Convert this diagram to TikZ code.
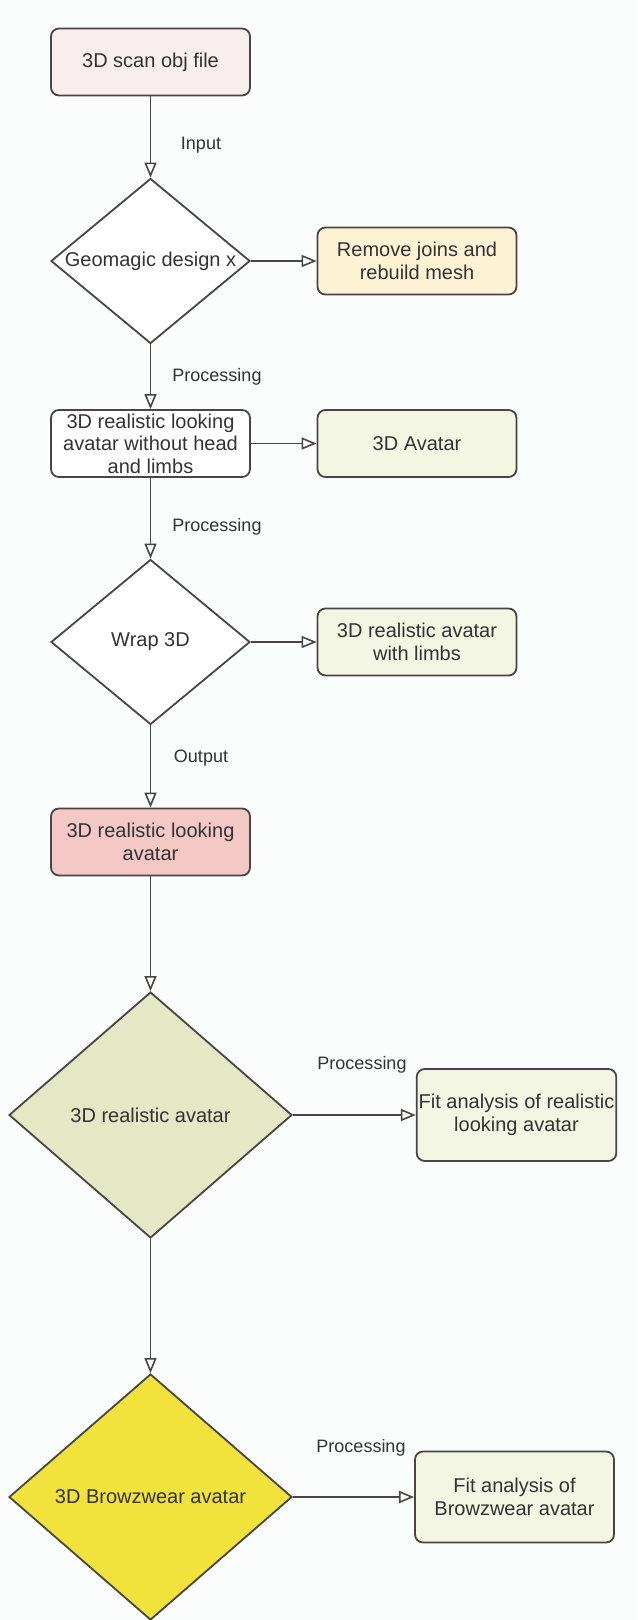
\documentclass[tikz,border=0pt]{standalone}
\usepackage{fontspec}
\setmainfont{Liberation Sans}
\usetikzlibrary{shapes.geometric,arrows.meta}
\definecolor{scanpink}{HTML}{F8EEEE}
\definecolor{meshcream}{HTML}{FDF2D4}
\definecolor{palegreen}{HTML}{F4F6E4}
\definecolor{realred}{HTML}{F4C8C4}
\definecolor{olivegreen}{HTML}{E5E8C5}
\definecolor{bwyellow}{HTML}{F2E23C}
\definecolor{edgegray}{HTML}{4A4545}
\definecolor{textgray}{HTML}{333333}
\definecolor{paper}{HTML}{FBFCFC}
\begin{document}
\begin{tikzpicture}[x=0.5pt,y=-0.5pt]
	\tikzstyle{box} = [draw=edgegray, line width=0.9pt, rounded corners=4pt, minimum width=99.5pt, minimum height=33.5pt, inner sep=1pt, align=center, text=textgray, font=\fontsize{10}{11.3}\selectfont]
	\tikzstyle{decision} = [diamond, draw=edgegray, line width=0.9pt, inner sep=0pt, text=textgray, font=\fontsize{10}{11.3}\selectfont]
	\tikzstyle{invisible} = [outer sep=0,inner sep=0,minimum size=0, text=textgray, font=\fontsize{9}{10}\selectfont]
	\tikzstyle{hollow} = [-{Triangle[open,length=7.5pt,width=6pt]}, draw=edgegray, line width=0.8pt]
	\fill [paper] (0,0) rectangle (637,1620);
	\useasboundingbox (0,0) rectangle (637,1620);
\node [box, fill=scanpink] (v1) at (150.5,62) {3D scan obj file};
\node [decision, fill=white, minimum width=99.5pt, minimum height=82.5pt] (v2) at (150.5,261) {\makebox[0pt]{Geomagic design x}};
\node [box, fill=meshcream] (v3) at (417,261) {Remove joins and\\rebuild mesh};
\node [box, fill=white] (v4) at (150.5,443.5) {3D realistic looking\\avatar without head\\and limbs};
\node [box, fill=palegreen] (v5) at (417,443.5) {3D Avatar};
\node [decision, fill=white, minimum width=99.5pt, minimum height=82.5pt] (v6) at (150.5,642) {\makebox[0pt]{Wrap 3D}};
\node [box, fill=palegreen] (v7) at (417,642) {3D realistic avatar\\with limbs};
\node [box, fill=realred] (v8) at (150.5,842) {3D realistic looking\\avatar};
\node [decision, fill=olivegreen, minimum width=141.5pt, minimum height=123pt] (v9) at (150.5,1115) {\makebox[0pt]{3D realistic avatar}};
\node [box, fill=palegreen, minimum height=46pt] (v10) at (516.5,1115) {Fit analysis of realistic\\looking avatar};
\node [decision, fill=bwyellow, minimum width=141.5pt, minimum height=123pt] (v11) at (150.5,1497) {\makebox[0pt]{3D Browzwear avatar}};
\node [box, fill=palegreen, minimum height=45.5pt] (v12) at (514.5,1497) {Fit analysis of\\Browzwear avatar};
\draw [hollow] (v1) edge (v2);
\draw [hollow] (v2) edge (v3);
\draw [hollow] (v2) edge (v4);
\draw [hollow] (v4) edge (v5);
\draw [hollow] (v4) edge (v6);
\draw [hollow] (v6) edge (v7);
\draw [hollow] (v6) edge (v8);
\draw [hollow] (v8) edge (v9);
\draw [hollow] (v9) edge (v10);
\draw [hollow] (v9) edge (v11);
\draw [hollow] (v11) edge (v12);

\node [invisible] (l1) at (201,145) {Input};
\node [invisible] (l2) at (217,377) {Processing};
\node [invisible] (l3) at (217,527) {Processing};
\node [invisible] (l4) at (201,758) {Output};
\node [invisible] (l5) at (362,1065) {Processing};
\node [invisible] (l6) at (361,1448) {Processing};
\end{tikzpicture}
\end{document}
